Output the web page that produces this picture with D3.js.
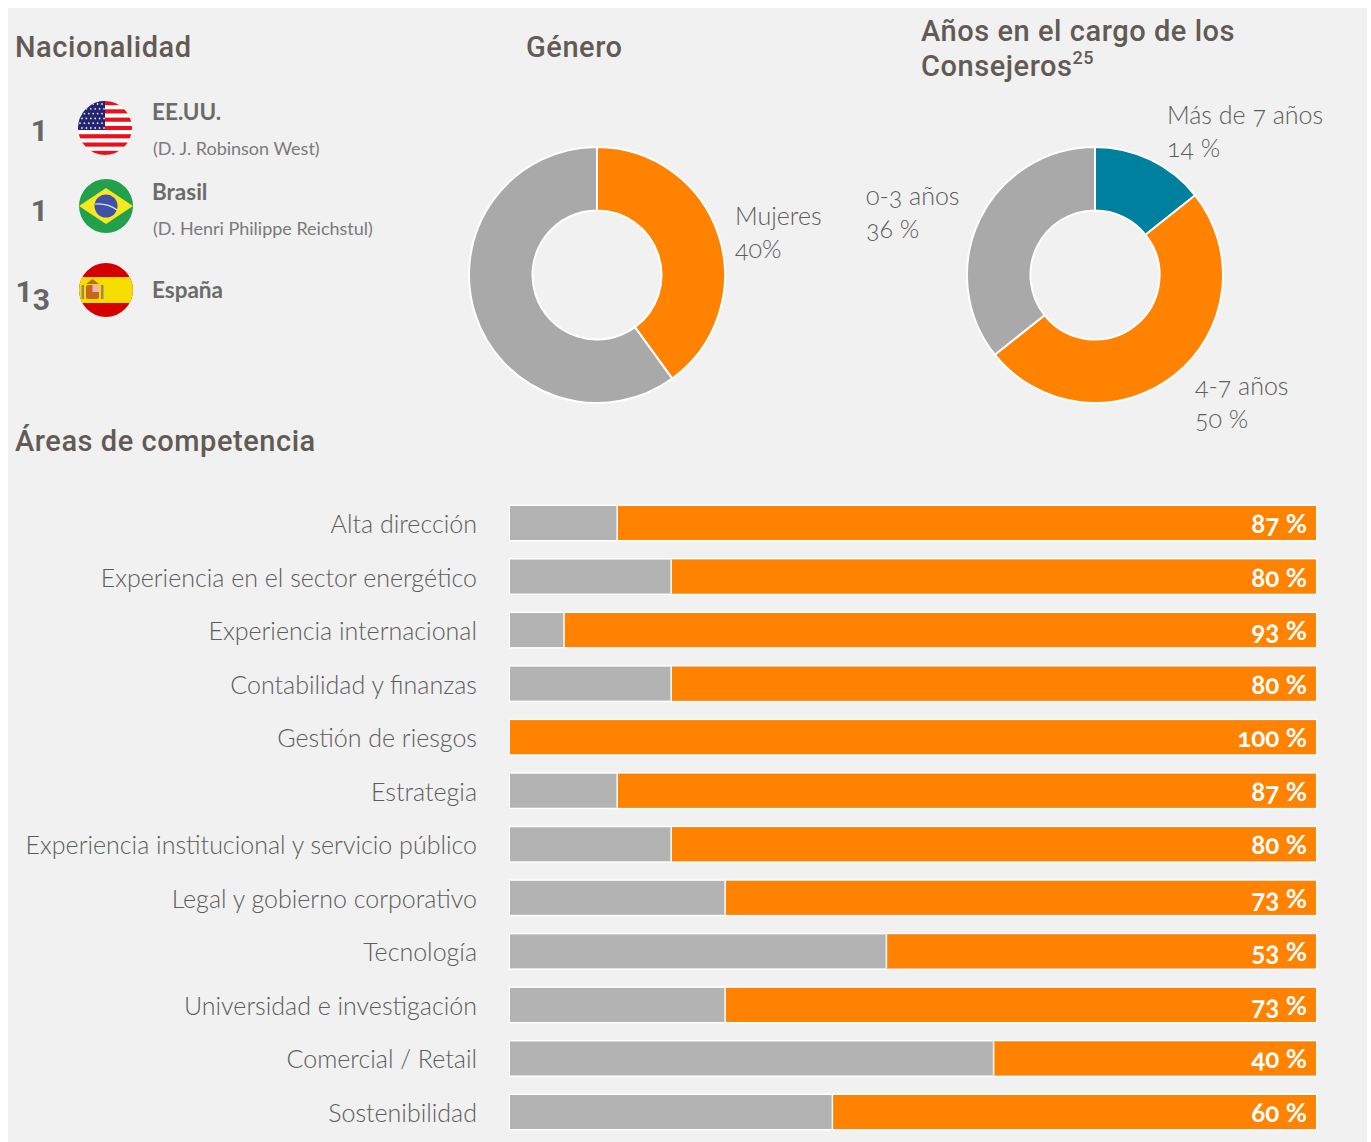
<!DOCTYPE html>
<html lang="es">
<head>
<meta charset="utf-8">
<script src="https://cdn.jsdelivr.net/npm/d3@7"></script>
<style>
  html, body { margin: 0; padding: 0; background: #fff; }
  svg { display: block; }
  .title { font-family: "Roboto"; font-weight: 500; font-size: 29px; fill: #625a54; letter-spacing: 0.55px; }
  .light { font-family: "Lato"; font-weight: 300; font-size: 25px; fill: #5c5c5c; font-feature-settings: "onum"; }
  .value { font-family: "Lato"; font-weight: 700; font-size: 26px; fill: #fff; font-feature-settings: "onum"; }
  .country { font-family: "Lato"; font-weight: 700; font-size: 22.5px; fill: #6b6b6b; }
  .person { font-family: "Lato"; font-weight: 400; font-size: 18px; fill: #7a7a7a; }
  .count { font-family: "Roboto"; font-weight: 700; font-size: 30px; fill: #666; }
</style>
</head>
<body>
<svg id="chart"></svg>
<script>
// competence bars
const areas = ["Alta dirección", "Experiencia en el sector energético", "Experiencia internacional",
  "Contabilidad y finanzas", "Gestión de riesgos", "Estrategia",
  "Experiencia institucional y servicio público", "Legal y gobierno corporativo", "Tecnología",
  "Universidad e investigación", "Comercial / Retail", "Sostenibilidad"];
const areaValues = [86.7, 80, 93.3, 80, 100, 86.7, 80, 73.3, 53.3, 73.3, 40, 60];

// donuts
const genderLabels = ["Mujeres", "Hombres"];
const genderValues = [40, 60];
const tenureLabels = ["Más de 7 años", "4-7 años", "0-3 años"];
const tenureValues = [14.3, 50, 35.7];

// nationality list
const countries = ["EE.UU.", "Brasil", "España"];
const countryCounts = [1, 1, 13];
const countryPeople = ["(D. J. Robinson West)", "(D. Henri Philippe Reichstul)", ""];

const W = 1371, H = 1142;
const orange = "#ff8300", greyBar = "#b3b3b3", greyPie = "#a9a9a9", teal = "#00809f";

const svg = d3.select("#chart").attr("width", W).attr("height", H);

svg.append("rect").attr("x", 8).attr("y", 8).attr("width", 1359).attr("height", 1134).attr("fill", "#f1f1f1");

// titles
function title(x, y, txt) {
  return svg.append("text").attr("class", "title").attr("x", x).attr("y", y).text(txt);
}
title(15, 57, "Nacionalidad");
title(526, 57, "Género");
title(921, 41, "Años en el cargo de los");
const cons = title(921, 76, "Consejeros");
cons.append("tspan").attr("dy", -12).attr("font-size", 18).text("25");
title(15, 451, "Áreas de competencia");

// nationality rows
const textY = [120, 200, 298];
const countY = [141, 221, 302];
const countX = [48, 48, 50];
countries.forEach((c, i) => {
  const t = svg.append("text").attr("class", "count").attr("x", countX[i]).attr("y", countY[i]).attr("text-anchor", "end");
  // the old-style 3 hangs below the line
  String(countryCounts[i]).split("").forEach(ch => {
    t.append("tspan").attr("dy", ch === "3" ? 8 : 0).text(ch);
  });
  svg.append("text").attr("class", "country").attr("x", 152).attr("y", textY[i]).text(c);
  svg.append("text").attr("class", "person").attr("x", 153).attr("y", textY[i] + 35).text(countryPeople[i]);
});

// flags, clipped to circles
function flag(id, cx, cy) {
  const clip = svg.append("clipPath").attr("id", id);
  clip.append("circle").attr("r", 27);
  return svg.append("g").attr("transform", `translate(${cx},${cy})`).attr("clip-path", `url(#${id})`);
}

const us = flag("clip-us", 105, 128);
us.append("rect").attr("x", -27).attr("y", -27).attr("width", 54).attr("height", 54).attr("fill", "#fff");
d3.range(7).forEach(i => {
  us.append("rect").attr("x", -27).attr("y", -27 + i * 8.3).attr("width", 54).attr("height", 4.15).attr("fill", "#e8101a");
});
us.append("rect").attr("x", -27).attr("y", -27).attr("width", 27).attr("height", 29).attr("fill", "#23266e");
d3.range(6).forEach(r => d3.range(6).forEach(c => {
  us.append("circle").attr("cx", -25 + c * 4.4 + (r % 2) * 2).attr("cy", -24 + r * 4.8).attr("r", 0.9).attr("fill", "#e8e8f4");
}));

const br = flag("clip-br", 106, 206);
br.append("rect").attr("x", -27).attr("y", -27).attr("width", 54).attr("height", 54).attr("fill", "#22a04c");
br.append("path").attr("d", "M-27,0L0,-18L27,0L0,18Z").attr("fill", "#f7e81f");
br.append("circle").attr("r", 11.5).attr("fill", "#3f52a8");
br.append("path").attr("d", "M-11,-2Q2,-3 11,4").attr("fill", "none").attr("stroke", "#dfe4f2").attr("stroke-width", 1.2);

const es = flag("clip-es", 106, 290);
es.append("rect").attr("x", -27).attr("y", -27).attr("width", 54).attr("height", 54).attr("fill", "#d40000");
es.append("rect").attr("x", -27).attr("y", -13).attr("width", 54).attr("height", 26).attr("fill", "#f7dc00");
es.append("rect").attr("x", -20).attr("y", -5).attr("width", 13).attr("height", 14).attr("rx", 2).attr("fill", "#c8641c");
es.append("rect").attr("x", -13.5).attr("y", -5).attr("width", 6.5).attr("height", 7).attr("fill", "#f0b0c0");
es.append("path").attr("d", "M-20,-6L-13.5,-11L-7,-6Z").attr("fill", "#b5701e");
es.append("rect").attr("x", -24.5).attr("y", -5).attr("width", 2.5).attr("height", 14).attr("fill", "#9a8a60");
es.append("rect").attr("x", -5).attr("y", -5).attr("width", 2.5).attr("height", 14).attr("fill", "#9a8a60");

// donuts
function donut(cx, cy, values, colors) {
  const pie = d3.pie().sort(null)(values);
  const arc = d3.arc().innerRadius(64.5).outerRadius(128);
  svg.append("g").attr("transform", `translate(${cx},${cy})`)
    .selectAll("path").data(pie).join("path")
    .attr("d", arc)
    .attr("fill", (d, i) => colors[i])
    .attr("stroke", "#fff")
    .attr("stroke-width", 2);
}
donut(597, 275, genderValues, [orange, greyPie]);
donut(1095, 275, tenureValues, [teal, orange, greyPie]);

function pieLabel(x, y, a, b) {
  svg.append("text").attr("class", "light").attr("x", x).attr("y", y).text(a);
  svg.append("text").attr("class", "light").attr("x", x).attr("y", y + 33).text(b);
}
pieLabel(735, 225, genderLabels[0], genderValues[0] + "%");
pieLabel(1167, 124, tenureLabels[0], Math.round(tenureValues[0]) + " %");
pieLabel(1195, 395, tenureLabels[1], Math.round(tenureValues[1]) + " %");
pieLabel(866, 205, tenureLabels[2], Math.round(tenureValues[2]) + " %");

// stacked bars
const x = d3.scaleLinear().domain([0, 100]).range([510, 1316]);
const y = d3.scaleBand().domain(areas).range([506, 1129]).paddingInner(0.365);

const rows = svg.append("g").selectAll("g").data(areas).join("g");

rows.append("text")
  .attr("class", "light")
  .attr("text-anchor", "end")
  .attr("x", 477)
  .attr("y", d => y(d) + y.bandwidth() / 2 + 10)
  .text(d => d);

// white outline sits outside the fills
rows.append("rect")
  .attr("x", x(0) - 1)
  .attr("y", d => y(d) - 1.5)
  .attr("width", x(100) - x(0) + 2)
  .attr("height", y.bandwidth() + 3)
  .attr("fill", "#fff");

rows.append("rect")
  .attr("x", x(0))
  .attr("y", d => y(d))
  .attr("width", x(100) - x(0))
  .attr("height", y.bandwidth())
  .attr("fill", greyBar);

rows.append("rect")
  .attr("x", (d, i) => x(100 - areaValues[i]))
  .attr("y", d => y(d))
  .attr("width", (d, i) => x(100) - x(100 - areaValues[i]))
  .attr("height", y.bandwidth())
  .attr("fill", orange);

// divider between the grey and the orange part
rows.append("line")
  .attr("x1", (d, i) => x(100 - areaValues[i]))
  .attr("x2", (d, i) => x(100 - areaValues[i]))
  .attr("y1", d => y(d))
  .attr("y2", d => y(d) + y.bandwidth())
  .attr("stroke", "#fff")
  .attr("stroke-width", (d, i) => areaValues[i] === 100 ? 0 : 1.5);

rows.append("text")
  .attr("class", "value")
  .attr("text-anchor", "end")
  .attr("x", x(100) - 9)
  .attr("y", d => y(d) + y.bandwidth() / 2 + 10)
  .text((d, i) => Math.round(areaValues[i]) + " %");
</script>
</body>
</html>
